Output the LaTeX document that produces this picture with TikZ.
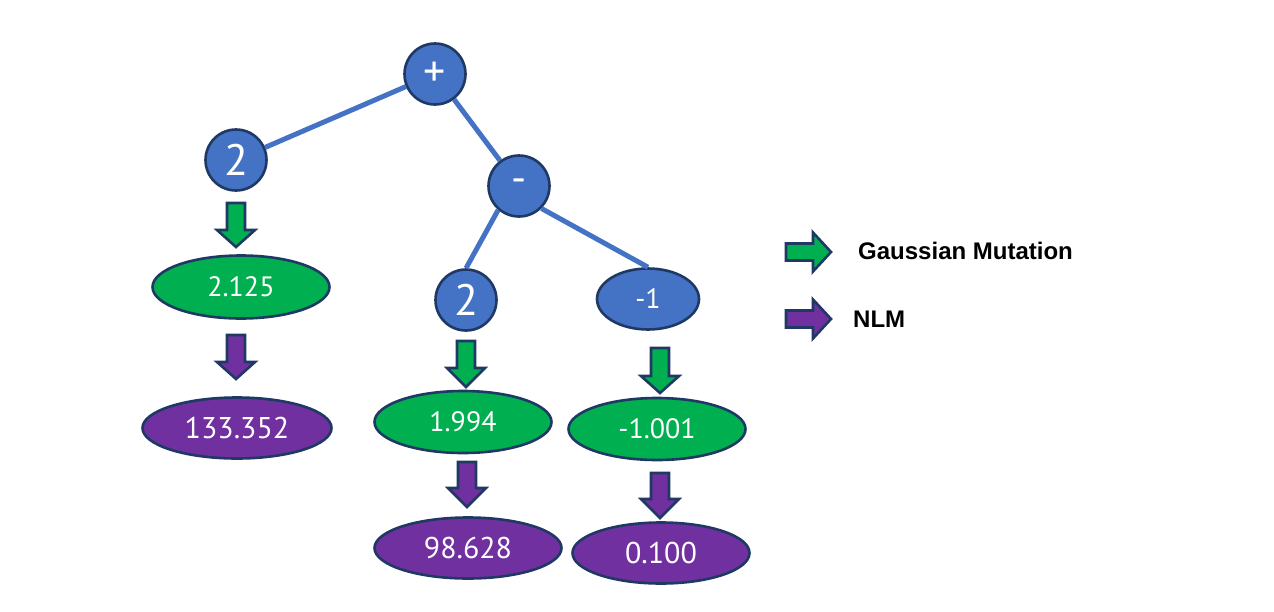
\documentclass[tikz,border=0pt]{standalone}
\usepackage{fontspec}
\setmainfont{PT Sans}
\newfontfamily\legendfont{Liberation Sans}
\usetikzlibrary{shapes.geometric}
\definecolor{nblue}{HTML}{4472C4}
\definecolor{nedge}{HTML}{1F3864}
\definecolor{ngreen}{HTML}{00B050}
\definecolor{npurple}{HTML}{7030A0}
\newcommand\blkdown[5]{% cx, top, headstart, tip, color
  \draw[arrowbox,fill=#5] (#1-9,#2) -- (#1+9,#2) -- (#1+9,#3) -- (#1+19,#3) -- (#1,#4) -- (#1-19,#3) -- (#1-9,#3) -- cycle;}
\newcommand\blkright[2]{% cy, color
  \draw[arrowbox,fill=#2] (786,#1-8.5) -- (813,#1-8.5) -- (813,#1-19.5) -- (831,#1) -- (813,#1+19.5) -- (813,#1+8.5) -- (786,#1+8.5) -- cycle;}
\begin{document}
\begin{tikzpicture}[x=1pt,y=-1pt,
  arrowbox/.style={draw=nedge,line width=2.6pt,line join=miter},
  treenode/.style={circle,draw=nedge,line width=2.6pt,fill=nblue,text=white,minimum size=61pt,inner sep=0pt},
  valnode/.style={ellipse,draw=nedge,line width=2.6pt,text=white,inner sep=0pt,font=\fontsize{28}{28}\selectfont},
  bignum/.style={font=\fontsize{30}{30}\selectfont},
  edgeline/.style={draw=nblue,line width=5pt},
  legendtext/.style={anchor=west,font=\legendfont\fontsize{24}{24}\selectfont\bfseries,text=black,inner sep=0pt}]
\useasboundingbox (0,0) rectangle (1274,611);
% tree nodes
\node[treenode,font=\fontsize{44}{44}\selectfont] (plus) at (435,74) {+};
\node[treenode,font=\fontsize{44}{44}\selectfont] (twoa) at (236,160) {2};
\node[treenode,font=\fontsize{42}{42}\selectfont] (minus) at (519,186) {-};
\node[treenode,font=\fontsize{44}{44}\selectfont] (twob) at (466,300) {2};
\node[valnode,fill=nblue,minimum width=102pt,minimum height=61pt,font=\fontsize{28}{28}\selectfont] (mone) at (648,299) {-1};
% edges
\draw[edgeline] (plus) -- (twoa);
\draw[edgeline] (plus) -- (minus);
\draw[edgeline] (minus.-131) -- (twob.north);
\draw[edgeline] (minus.-45) -- (mone.north);
% value nodes
\node[valnode,fill=ngreen,minimum width=177pt,minimum height=63pt] (ga) at (241,287) {2.125};
\node[valnode,bignum,fill=npurple,minimum width=189pt,minimum height=61pt] (pa) at (237,428) {133.352};
\node[valnode,fill=ngreen,minimum width=177pt,minimum height=62pt] (gb) at (463,422) {1.994};
\node[valnode,bignum,fill=npurple,minimum width=187pt,minimum height=61pt] (pb) at (468,548) {98.628};
\node[valnode,fill=ngreen,minimum width=177pt,minimum height=62pt] (gc) at (657,429) {-1.001};
\node[valnode,bignum,fill=npurple,minimum width=177pt,minimum height=61pt] (pc) at (661,553) {0.100};
% block arrows
\blkdown{236}{203}{230}{247}{ngreen}
\blkdown{236}{335}{362}{379}{npurple}
\blkdown{466}{341}{368}{387}{ngreen}
\blkdown{467}{462}{488}{507}{npurple}
\blkdown{660}{348}{376}{393}{ngreen}
\blkdown{660}{473}{499}{518}{npurple}
% legend
\blkright{252}{ngreen}
\blkright{319}{npurple}
\node[legendtext] (lg) at (858,251) {Gaussian Mutation};
\node[legendtext] (lp) at (853,319) {NLM};
\end{tikzpicture}
\end{document}
